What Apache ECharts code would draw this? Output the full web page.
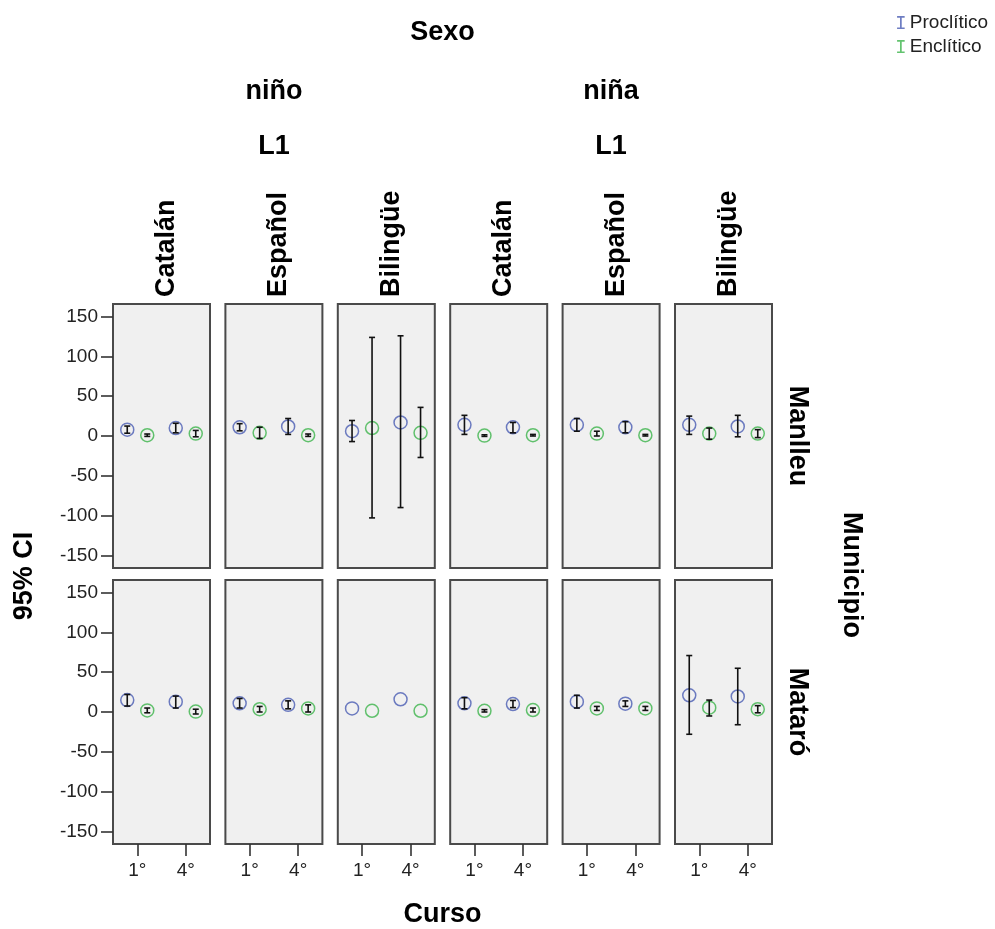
<!DOCTYPE html>
<html>
<head>
<meta charset="utf-8">
<script src="https://cdn.jsdelivr.net/npm/echarts@6/dist/echarts.min.js"></script>
<style>
  html, body { margin: 0; padding: 0; background: #fff; }
</style>
</head>
<body>
<div id="main" style="width: 995px; height: 929px;"></div>

<script type="text/javascript">
    // categorias
    var cursos = ['1°', '4°'];
    var sexos = ['niño', 'niña'];
    var lenguas = ['Catalán', 'Español', 'Bilingüe'];
    var municipios = ['Manlleu', 'Mataró'];
    var yTicks = [-150, -100, -50, 0, 50, 100, 150];

    // paneles: fila Manlleu (niño Cat, Esp, Bil, niña Cat, Esp, Bil), luego fila Mataró
    var procMean = [[8, 10], [11, 12], [6, 17], [14, 11], [14, 11], [14, 12],
                    [15, 13], [11, 9], [4.5, 16], [11, 10], [13, 10.5], [21, 19.5]];
    var procLow  = [[3.5, 4], [6.5, 2], [-7, -90], [2, 4], [6, 4], [2, -1],
                    [7.5, 5], [5, 4], [null, null], [4, 5.5], [5, 7], [-28, -16]];
    var procHigh = [[12.5, 16], [15.5, 22], [19.5, 126], [26, 17], [22, 18], [25, 26],
                    [22, 20], [17, 14], [null, null], [18, 14.5], [21, 14], [71, 55]];

    var enclMean = [[1, 3], [4, 1], [10, 4], [0.5, 1], [3, 1], [3, 3],
                    [2, 0.5], [3.5, 4.5], [1.5, 1.5], [1.5, 2.5], [4.5, 4.5], [5.5, 3.5]];
    var enclLow  = [[-0.5, -1], [-3, -0.5], [-103, -27], [-0.5, 0], [0, 0], [-4, -2],
                    [-1, -2.5], [0, 0], [null, null], [0, 0], [2, 2], [-5, -1]];
    var enclHigh = [[2.5, 7], [11, 2.5], [124, 36], [1.5, 2], [6, 2], [10, 8],
                    [5, 3.5], [7, 9], [null, null], [3, 5], [7, 7], [15, 8]];

    var azul = '#4a5db3';
    var verde = '#3cb44b';
    var fuente = '"Liberation Sans", Arial, sans-serif';

    var myChart = echarts.init(document.getElementById('main'));

    // geometria de los paneles
    var panelLeft = 113, panelPitch = 112.4, panelW = 97;
    var panelTops = [304, 580], panelH = 264;

    var grids = [], xAxes = [], yAxes = [], series = [];

    function errRender(off) {
        return function (params, api) {
            var x = api.value(0);
            var p1 = api.coord([x, api.value(1)]);
            var p2 = api.coord([x, api.value(2)]);
            var cx = p1[0] + off;
            var st = { stroke: '#111', lineWidth: 1.6 };
            return {
                type: 'group',
                children: [
                    { type: 'line', shape: { x1: cx, y1: p1[1], x2: cx, y2: p2[1] }, style: st },
                    { type: 'line', shape: { x1: cx - 3, y1: p1[1], x2: cx + 3, y2: p1[1] }, style: st },
                    { type: 'line', shape: { x1: cx - 3, y1: p2[1], x2: cx + 3, y2: p2[1] }, style: st }
                ]
            };
        };
    }

    function errData(low, high) {
        var d = [];
        for (var k = 0; k < cursos.length; k++) {
            if (low[k] != null) d.push([k, low[k], high[k]]);
        }
        return d;
    }

    for (var r = 0; r < municipios.length; r++) {
        for (var c = 0; c < 6; c++) {
            var i = r * 6 + c;
            grids.push({
                left: panelLeft + c * panelPitch, top: panelTops[r],
                width: panelW, height: panelH,
                show: true, backgroundColor: '#f0f0f0',
                borderColor: '#4a4a4a', borderWidth: 2
            });
            xAxes.push({
                type: 'category', gridIndex: i, data: cursos, position: 'bottom',
                axisLine: { show: false, onZero: false },
                axisTick: { show: r == 1, alignWithLabel: true, length: 12,
                            lineStyle: { color: '#333', width: 1.6 } },
                axisLabel: { show: r == 1, fontSize: 19, color: '#222', margin: 17, fontFamily: fuente },
                splitLine: { show: false }
            });
            yAxes.push({
                type: 'value', gridIndex: i, min: -166, max: 166,
                axisLine: { show: false, onZero: false },
                axisTick: { show: c == 0, length: 12, customValues: yTicks,
                            lineStyle: { color: '#333', width: 1.6 } },
                axisLabel: { show: c == 0, fontSize: 19, color: '#222', margin: 15,
                             customValues: yTicks, fontFamily: fuente },
                splitLine: { show: false }
            });

            series.push({
                name: 'Proclítico', type: 'scatter', xAxisIndex: i, yAxisIndex: i,
                symbol: 'circle', symbolSize: 13, symbolOffset: [-10, 0],
                itemStyle: { color: 'rgba(0,0,0,0)', borderColor: azul, borderWidth: 1.5 },
                data: procMean[i].map(function (v, k) { return [k, v]; }),
                z: 2, silent: true
            });
            series.push({
                name: 'Enclítico', type: 'scatter', xAxisIndex: i, yAxisIndex: i,
                symbol: 'circle', symbolSize: 13, symbolOffset: [10, 0],
                itemStyle: { color: 'rgba(0,0,0,0)', borderColor: verde, borderWidth: 1.5 },
                data: enclMean[i].map(function (v, k) { return [k, v]; }),
                z: 2, silent: true
            });
            series.push({
                type: 'custom', xAxisIndex: i, yAxisIndex: i,
                renderItem: errRender(-10), encode: { x: 0, y: [1, 2] },
                data: errData(procLow[i], procHigh[i]), z: 3, silent: true
            });
            series.push({
                type: 'custom', xAxisIndex: i, yAxisIndex: i,
                renderItem: errRender(10), encode: { x: 0, y: [1, 2] },
                data: errData(enclLow[i], enclHigh[i]), z: 3, silent: true
            });
        }
    }

    // textos de las facetas
    var bold = 'bold 27px ' + fuente;
    var textos = [];
    function txt(s, x, y, rot, align) {
        textos.push({
            type: 'text', x: x, y: y, rotation: rot || 0,
            style: { text: s, font: bold, fill: '#000', align: align || 'center', verticalAlign: 'middle' }
        });
    }
    var gridRight = panelLeft + 5 * panelPitch + panelW;
    txt('Sexo', (panelLeft + gridRight) / 2, 33);
    for (var s = 0; s < sexos.length; s++) {
        var l0 = panelLeft + s * 3 * panelPitch;
        var cx = (l0 + l0 + 2 * panelPitch + panelW) / 2;
        txt(sexos[s], cx, 92);
        txt('L1', cx, 147);
        for (var l = 0; l < lenguas.length; l++) {
            var pc = panelLeft + (s * 3 + l) * panelPitch + panelW / 2;
            txt(lenguas[l], pc + 5, 297, Math.PI / 2, 'left');
        }
    }
    for (var m = 0; m < municipios.length; m++) {
        txt(municipios[m], 797, panelTops[m] + panelH / 2, -Math.PI / 2);
    }
    txt('Municipio', 851, 575, -Math.PI / 2);
    txt('95% CI', 25, 576, Math.PI / 2);
    txt('Curso', (panelLeft + gridRight) / 2, 915);

    var iBeam = 'path://M0,0h7v1.5h-2.7v9h2.7v1.5h-7v-1.5h2.7v-9h-2.7z';

    var option = {
        animation: false,
        legend: {
            orient: 'vertical', right: 2, top: 8,
            itemWidth: 8, itemHeight: 13, itemGap: 5,
            selectedMode: false,
            textStyle: { fontSize: 19, color: '#222', fontFamily: fuente },
            data: [
                { name: 'Proclítico', icon: iBeam, itemStyle: { color: azul, borderWidth: 0 } },
                { name: 'Enclítico', icon: iBeam, itemStyle: { color: verde, borderWidth: 0 } }
            ]
        },
        grid: grids,
        xAxis: xAxes,
        yAxis: yAxes,
        series: series,
        graphic: textos
    };

    myChart.setOption(option);
</script>
</body>
</html>
